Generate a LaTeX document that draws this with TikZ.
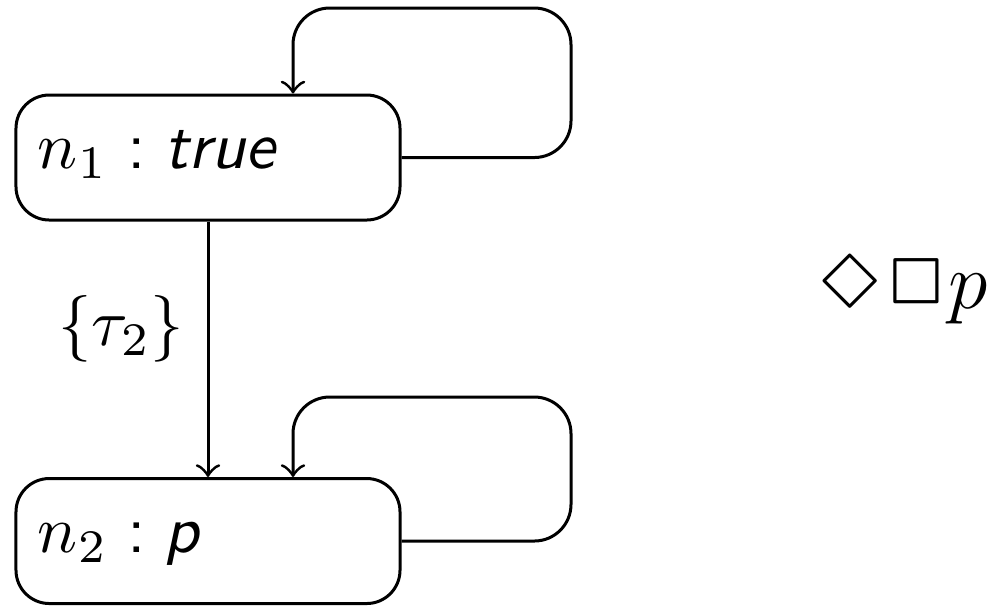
\documentclass[tikz,border=0pt]{standalone}
\usepackage{latexsym}
\begin{document}
\begin{tikzpicture}[x=0.15pt,y=-0.15pt, line width=0.45pt,
  state/.style={draw, rounded corners=5pt, minimum width=57.6pt, minimum height=18.75pt,
    text width=51pt, inner xsep=3.3pt, inner ysep=0pt, align=left, text height=4.6pt, text depth=1.2pt},
  selfloop/.style={->, rounded corners=5.5pt}]
\useasboundingbox (0,0) rectangle (987,606);
\node[state] (n1) at (208,157.5) {$n_1$\hspace{3pt}\textsf{:\hspace{2.7pt}\textit{true}}};
\node[state] (n2) at (208,541) {$n_2$\hspace{3pt}\textsf{:\hspace{2.7pt}\textit{p}}};
\coordinate (l1) at (571,8);
\coordinate (l2) at (571,397);
\draw[selfloop] (n1.east) -| (l1) -| ([xshift=12.75pt]n1.north);
\draw[selfloop] (n2.east) -| (l2) -| ([xshift=12.75pt]n2.north);
\draw[->] (n1) -- node[left, pos=0.42] (lab) {$\{\tau_2\}$} (n2);
\node[anchor=base west, inner sep=0pt, font=\large] (f) at (817,308) {$\Diamond\mkern1mu\Box\mkern0.5mu p$};
\end{tikzpicture}
\end{document}
